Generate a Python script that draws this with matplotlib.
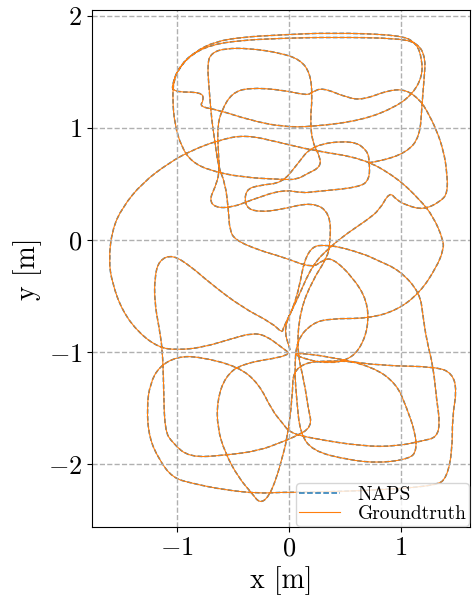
import matplotlib
matplotlib.use("Agg")
import matplotlib.pyplot as plt
from matplotlib.path import Path
from matplotlib.patches import PathPatch

plt.rcParams['font.family'] = 'serif'
plt.rcParams['font.serif'] = ['cmr10']
plt.rcParams['mathtext.fontset'] = 'cm'
plt.rcParams['axes.formatter.use_mathtext'] = True

# trajectory legs (x, y in metres)
leg_a_x = [0.71, 0.81, 1.05, 1.17, 1.19, 1.21, 1.22, 1.16, 0.99, 0.40, -0.08, -0.45, -0.70, -0.88, -0.99, -1.04,
           -1.04, -0.78, -0.76, -0.80, -0.63, -0.35, -0.06, 0.21, 0.66, 0.96, 1.11, 1.19, 1.19, 1.14, 0.99, 0.37,
           -0.08, -0.42, -0.66, -0.84, -0.97, -1.03, -1.04, -1.02, -0.96, -0.87, -0.71, -0.42, -0.06, 0.07, 0.16,
           0.28, 0.28, 0.21, 0.19, 0.21, 0.19, 0.10, -0.08, -0.35, -0.57, -0.69, -0.73, -0.71, -0.69, -0.66, -0.63,
           -0.57, -0.54, -0.53, -0.48, -0.27, -0.06, 0.21, 0.30, 0.39, 0.57, 0.70, 0.71, 0.63, 0.52, 0.37, 0.16, 0.01]
leg_a_y = [0.69, 0.70, 0.78, 0.92, 1.22, 1.46, 1.62, 1.75, 1.80, 1.81, 1.80, 1.78, 1.74, 1.65, 1.52, 1.40,
           1.32, 1.32, 1.25, 1.19, 1.16, 1.07, 1.01, 1.01, 1.07, 1.19, 1.31, 1.46, 1.61, 1.76, 1.83, 1.85,
           1.83, 1.81, 1.77, 1.68, 1.56, 1.43, 1.25, 1.03, 0.83, 0.70, 0.62, 0.56, 0.54, 0.54, 0.59,
           0.65, 0.74, 0.87, 1.07, 1.28, 1.49, 1.61, 1.67, 1.71, 1.71, 1.67, 1.58, 1.31, 1.07, 0.87, 0.65,
           0.51, 0.27, 0.09, 0.00, -0.09, -0.15, -0.25, -0.18, -0.16, -0.33, -0.54, -0.78, -0.98, -1.07, -1.10, -1.07, -1.00]

leg_b_x = [0.37, 0.75, 0.96, 1.05, 1.13, 1.14, 1.08, 0.81, 0.52, 0.21, 0.10, 0.07, 0.05, 0.07, 0.21, 0.37, 0.70,
           0.96, 1.17, 1.32, 1.38, 1.38, 1.29, 1.17, 0.96, 0.66, 0.21, -0.08, -0.39, -0.63, -0.87, -1.07, -1.31,
           -1.49, -1.58, -1.61, -1.58, -1.49, -1.34, -1.16, -1.00, -0.78, -0.51, -0.33, -0.21, -0.06, 0.03]
leg_b_y = [-1.04, -1.13, -1.28, -1.49, -1.72, -1.88, -1.95, -1.99, -1.96, -1.88, -1.72, -1.43, -1.16, -0.89, -0.74,
           -0.70, -0.70, -0.63, -0.47, -0.24, -0.09, 0.00, 0.21, 0.36, 0.56, 0.73, 0.80, 0.87, 0.94, 0.89, 0.80,
           0.69, 0.51, 0.29, 0.09, -0.18, -0.38, -0.63, -0.83, -0.96, -0.98, -0.96, -0.88, -0.83, -0.85, -0.96, -1.03]

leg_c_x = [-0.42, -0.57, -0.64, -0.64, -0.57, -0.45, -0.33, -0.26, -0.18, -0.11, -0.06, -0.02, 0.03, 0.04]
leg_c_y = [-1.10, -1.22, -1.43, -1.67, -1.90, -2.12, -2.26, -2.35, -2.29, -2.12, -1.94, -1.79, -1.43, -1.10]

leg_d_x = [0.46, 0.81, 1.32, 1.46, 1.50, 1.46, 1.46, 1.41, 1.32, 0.81, 0.21, -0.08, -0.27, -0.57, -0.87, -1.04,
           -1.16, -1.25, -1.27, -1.24, -1.16, -1.00, -0.80, -0.45, -0.27, -0.15, -0.06, 0.01, 0.21, 0.66, 0.96,
           1.20, 1.32, 1.35, 1.32, 1.29, 1.23, 1.20, 1.17, 0.99, 0.79, 0.66, 0.37, 0.16, 0.07, -0.05, -0.06]
leg_d_y = [-1.07, -1.12, -1.13, -1.19, -1.34, -1.58, -1.88, -2.12, -2.19, -2.23, -2.25, -2.25, -2.26, -2.23, -2.17,
           -2.12, -1.96, -1.76, -1.49, -1.28, -1.13, -1.04, -1.04, -1.13, -1.28, -1.52, -1.63, -1.72, -1.77, -1.84,
           -1.84, -1.79, -1.76, -1.63, -1.43, -1.13, -0.89, -0.69, -0.47, -0.27, -0.18, -0.12, -0.04, -0.06, -0.54,
           -0.78, -0.83]

leg_e_x = [-0.15, -0.42, -0.71, -0.87, -1.04, -1.16, -1.20, -1.20, -1.16, -1.13, -1.12, -1.11, -1.04, -0.89, -0.57,
           -0.27, -0.06, 0.04, 0.21, 0.17, 0.14, 0.07, 0.10, 0.21, 0.34, 0.37, 0.37, 0.21, -0.08, -0.27, -0.39,
           -0.39, -0.26, -0.06]
leg_e_y = [-0.74, -0.60, -0.38, -0.24, -0.13, -0.18, -0.33, -0.56, -0.78, -0.98, -1.28, -1.70, -1.81, -1.94, -1.92,
           -1.88, -1.80, -1.76, -1.67, -1.49, -1.28, -0.98, -0.63, -0.36, -0.16, -0.03, 0.24, 0.34, 0.27, 0.25, 0.29,
           0.45, 0.49, 0.51]

leg_f_x = [0.07, 0.21, 0.57, 0.70, 0.72, 0.72, 0.63, 0.21, 0.13, -0.06, -0.33, -0.51, -0.66, -0.71, -0.66, -0.62,
           -0.63, -0.64, -0.60, -0.51, -0.36, -0.06, 0.16, 0.21, 0.30, 0.52, 0.66, 0.90, 1.05, 1.17, 1.23, 1.32,
           1.38, 1.41, 1.42, 1.35, 1.20, 1.05, 0.96, 0.90, 0.81, 0.70, 0.52, 0.37, 0.21, 0.07, -0.05, 0.01]
leg_f_y = [0.67, 0.85, 0.89, 0.80, 0.70, 0.54, 0.47, 0.43, 0.42, 0.45, 0.36, 0.29, 0.29, 0.36, 0.47, 0.60,
           0.78, 1.01, 1.16, 1.31, 1.36, 1.34, 1.29, 1.32, 1.36, 1.27, 1.25, 1.34, 1.34, 1.25, 1.16, 0.98,
           0.80, 0.63, 0.42, 0.34, 0.27, 0.31, 0.36, 0.43, 0.27, 0.18, 0.06, -0.06, -0.22, -0.54, -0.78, -0.98]

gt_x = leg_a_x + leg_b_x + leg_c_x + leg_d_x + leg_e_x + leg_f_x
gt_y = leg_a_y + leg_b_y + leg_c_y + leg_d_y + leg_e_y + leg_f_y


def smooth_path(xs, ys):
    # quadratic bezier through the waypoints (waypoints act as control points)
    pts = list(zip(xs, ys))
    verts = [pts[0]]
    codes = [Path.MOVETO]
    for i in range(1, len(pts) - 1):
        mid = ((pts[i][0] + pts[i + 1][0]) / 2, (pts[i][1] + pts[i + 1][1]) / 2)
        verts += [pts[i], mid]
        codes += [Path.CURVE3, Path.CURVE3]
    verts.append(pts[-1])
    codes.append(Path.LINETO)
    return Path(verts, codes)


fig = plt.figure(figsize=(4.74, 6.03), dpi=100)
ax = fig.add_axes([0.194, 0.126, 0.798, 0.857])

naps = PathPatch(smooth_path(gt_x, gt_y), fill=False, edgecolor='tab:blue', linewidth=1.1,
                 linestyle=(0, (3, 1.5)))
gt = PathPatch(smooth_path(gt_x, gt_y), fill=False, edgecolor='tab:orange', linewidth=0.8)
ax.add_patch(naps)
ax.add_patch(gt)

# legend entries
ax.plot([], [], color='tab:blue', linestyle='--', linewidth=1.1, label='NAPS')
ax.plot([], [], color='tab:orange', linewidth=0.8, label='Groundtruth')

ax.set_xlim(-1.76, 1.62)
ax.set_ylim(-2.56, 2.05)
ax.set_xticks([-1, 0, 1])
ax.set_yticks([-2, -1, 0, 1, 2])
ax.tick_params(labelsize=19)
ax.set_xlabel('x [m]', fontsize=20)
ax.set_ylabel('y [m]', fontsize=20)
ax.grid(color='#b0b0b0', linestyle='--', linewidth=1)
ax.legend(loc='lower right', fontsize=14, borderaxespad=0.05, handlelength=2.1,
          borderpad=0.15, labelspacing=0.05, handletextpad=0.9)

fig.savefig('out.png', dpi=100)
